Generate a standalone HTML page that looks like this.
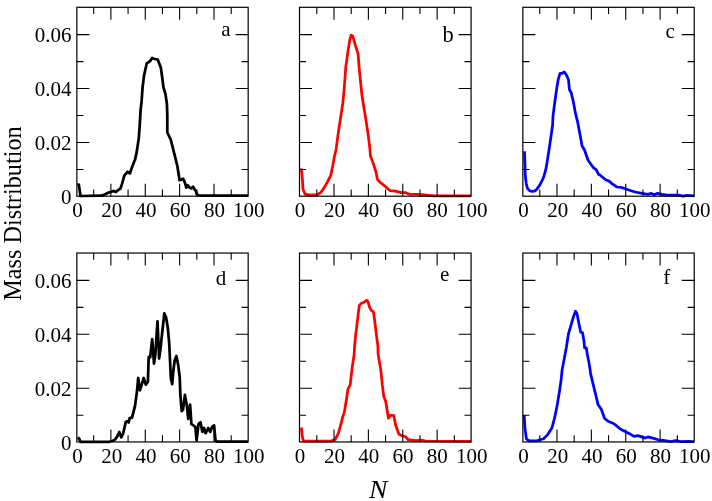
<!DOCTYPE html><html><head><meta charset="utf-8"><style>html,body{margin:0;padding:0;background:#fff;overflow:hidden}svg{display:block;will-change:transform}text{font-family:"Liberation Serif",serif}</style></head><body>
<svg width="712" height="501" viewBox="0 0 712 501">
<rect width="712" height="501" fill="#fff"/>
<polyline points="77.3,184.5 78.8,184.5 80.5,196 101.8,195.7 105.2,194.3 108.6,192.6 111.4,191.8 113.6,190.9 115.9,192.0 118.1,190.1 120.4,188.7 122.1,183.6 124.3,175.7 127.5,171.8 129.9,173.5 131.6,168.4 134.4,161.1 135.0,159.9 136.7,152.1 138.8,138.1 139.8,124 140.6,110 141.6,101.2 142.6,87.1 144.1,75.2 146.8,63.3 150.0,61.2 152.1,57.9 154.7,59.0 157.8,59.7 160.8,67.5 162.2,77.3 163.4,87.1 165.5,94.2 166.9,104 167.3,114.9 167.3,132.5 170.7,139.5 174.6,154.9 177.4,166.2 179.6,180.2 181.5,179.6 183.0,178.7 184.7,182.1 186.3,187.6 187.8,185.3 189.7,187.8 191.6,188.4 193.1,186.8 194.8,189.7 196.0,191 196.7,194.1 199.2,195.7 247.9,195.7" fill="none" stroke="#000" stroke-width="2.75" stroke-linejoin="round" stroke-linecap="butt"/>
<path d="M93.69 196.2v-6.6M93.69 7.3v6.6M110.88 196.2v-12.5M110.88 7.3v12.5M128.07 196.2v-6.6M128.07 7.3v6.6M145.26 196.2v-12.5M145.26 7.3v12.5M162.45 196.2v-6.6M162.45 7.3v6.6M179.64 196.2v-12.5M179.64 7.3v12.5M196.83 196.2v-6.6M196.83 7.3v6.6M214.02 196.2v-12.5M214.02 7.3v12.5M231.21 196.2v-6.6M231.21 7.3v6.6M76.86 169.48h6.6M248.17 169.48h-6.6M76.86 142.51h12.5M248.17 142.51h-12.5M76.86 115.54h6.6M248.17 115.54h-6.6M76.86 88.57h12.5M248.17 88.57h-12.5M76.86 61.6h6.6M248.17 61.6h-6.6M76.86 34.63h12.5M248.17 34.63h-12.5" stroke="#000" stroke-width="1.1" fill="none"/>
<rect x="76.86" y="7.3" width="171.31" height="188.9" fill="none" stroke="#000" stroke-width="1.2"/>
<text x="77.46" y="217.3" font-size="21" text-anchor="middle">0</text>
<text x="111.72" y="217.3" font-size="21" text-anchor="middle">20</text>
<text x="145.98" y="217.3" font-size="21" text-anchor="middle">40</text>
<text x="180.25" y="217.3" font-size="21" text-anchor="middle">60</text>
<text x="214.51" y="217.3" font-size="21" text-anchor="middle">80</text>
<text x="248.77" y="217.3" font-size="21" text-anchor="middle">100</text>
<text x="221.26" y="36" font-size="21">a</text>
<polyline points="301.3,168.3 302.3,178.1 303.0,189.3 305.1,194.2 310.0,195.2 317.1,194.7 320.6,192.8 324.1,187.9 327.6,181.6 330.8,175.3 332.8,165.4 334.6,155.6 336.0,150 338.0,134.9 340.1,120.9 342.7,104 344.1,90 345.8,67.1 347.9,51.7 349.7,40.4 351.1,35.1 352.8,36.2 355.6,46.1 358.1,53.8 359.1,67.1 360.5,81.2 361.9,95 363.3,104 366.1,120.9 368.2,134.9 369.9,149 370.4,155.6 373.9,165.4 376.1,172.5 377.5,179.5 380.3,182.5 385.6,186.7 389.8,190.6 395.4,191.2 401.1,192.6 405.3,192.6 408.8,194.1 419.3,194.4 426.3,195.1 434.8,195.8 471,195.8" fill="none" stroke="#f00" stroke-width="2.75" stroke-linejoin="round" stroke-linecap="butt"/>
<path d="M316.81 196.2v-6.6M316.81 7.3v6.6M334 196.2v-12.5M334 7.3v12.5M351.19 196.2v-6.6M351.19 7.3v6.6M368.38 196.2v-12.5M368.38 7.3v12.5M385.57 196.2v-6.6M385.57 7.3v6.6M402.76 196.2v-12.5M402.76 7.3v12.5M419.95 196.2v-6.6M419.95 7.3v6.6M437.14 196.2v-12.5M437.14 7.3v12.5M454.33 196.2v-6.6M454.33 7.3v6.6M299.5 169.48h6.6M471.07 169.48h-6.6M299.5 142.51h12.5M471.07 142.51h-12.5M299.5 115.54h6.6M471.07 115.54h-6.6M299.5 88.57h12.5M471.07 88.57h-12.5M299.5 61.6h6.6M471.07 61.6h-6.6M299.5 34.63h12.5M471.07 34.63h-12.5" stroke="#000" stroke-width="1.1" fill="none"/>
<rect x="299.5" y="7.3" width="171.57" height="188.9" fill="none" stroke="#000" stroke-width="1.2"/>
<text x="300.1" y="217.3" font-size="21" text-anchor="middle">0</text>
<text x="334.41" y="217.3" font-size="21" text-anchor="middle">20</text>
<text x="368.73" y="217.3" font-size="21" text-anchor="middle">40</text>
<text x="403.04" y="217.3" font-size="21" text-anchor="middle">60</text>
<text x="437.36" y="217.3" font-size="21" text-anchor="middle">80</text>
<text x="471.67" y="217.3" font-size="21" text-anchor="middle">100</text>
<text x="442.5" y="41.5" font-size="22.5">b</text>
<polyline points="524.5,151.2 525.0,165 525.3,176 526.3,184 527.6,188.6 529.5,190.7 532,191.4 534.5,191.1 536.5,189.6 539.8,185 543.4,177.8 545.3,171.5 546.6,165.4 548.7,151.9 550.7,138.5 552.6,125 553.0,116.2 554.8,102.1 556.8,88.1 558.2,79.7 560.0,73.3 562.1,73.3 564.2,71.9 566.3,74.7 568.5,79.7 569.4,89.5 571.3,93.0 573.4,102.1 575.5,113.4 577.6,121.8 579.9,134 582.1,146 584.4,149.7 588.1,160.2 593.4,167.7 596.3,169.9 598.6,174.4 600,175 605.6,179.7 609.1,181.1 612.6,184.2 616.9,187 621.1,187.4 625.3,188.8 629.5,190.2 635.1,192 642.1,193.4 647.8,194.4 651.3,193.4 654.1,194.8 657.6,193.4 661.8,194.4 666.0,194.8 673,195.1 678.7,195.1 682.9,196.2 687.1,195.4 694.1,195.8" fill="none" stroke="#00f" stroke-width="2.75" stroke-linejoin="round" stroke-linecap="butt"/>
<path d="M539.79 196.2v-6.6M539.79 7.3v6.6M556.98 196.2v-12.5M556.98 7.3v12.5M574.17 196.2v-6.6M574.17 7.3v6.6M591.36 196.2v-12.5M591.36 7.3v12.5M608.55 196.2v-6.6M608.55 7.3v6.6M625.74 196.2v-12.5M625.74 7.3v12.5M642.93 196.2v-6.6M642.93 7.3v6.6M660.12 196.2v-12.5M660.12 7.3v12.5M677.31 196.2v-6.6M677.31 7.3v6.6M522.85 169.48h6.6M694.2 169.48h-6.6M522.85 142.51h12.5M694.2 142.51h-12.5M522.85 115.54h6.6M694.2 115.54h-6.6M522.85 88.57h12.5M694.2 88.57h-12.5M522.85 61.6h6.6M694.2 61.6h-6.6M522.85 34.63h12.5M694.2 34.63h-12.5" stroke="#000" stroke-width="1.1" fill="none"/>
<rect x="522.85" y="7.3" width="171.35" height="188.9" fill="none" stroke="#000" stroke-width="1.2"/>
<text x="523.45" y="217.3" font-size="21" text-anchor="middle">0</text>
<text x="557.72" y="217.3" font-size="21" text-anchor="middle">20</text>
<text x="591.99" y="217.3" font-size="21" text-anchor="middle">40</text>
<text x="626.26" y="217.3" font-size="21" text-anchor="middle">60</text>
<text x="660.53" y="217.3" font-size="21" text-anchor="middle">80</text>
<text x="694.8" y="217.3" font-size="21" text-anchor="middle">100</text>
<text x="665.5" y="37.5" font-size="21">c</text>
<text x="71.4" y="203.9" font-size="21" text-anchor="end">0</text>
<text x="71.4" y="149.93" font-size="21" text-anchor="end">0.02</text>
<text x="71.4" y="95.96" font-size="21" text-anchor="end">0.04</text>
<text x="71.4" y="41.99" font-size="21" text-anchor="end">0.06</text>
<polyline points="77.5,437.9 79,438.3 80.4,441.8 109.4,441.8 112.9,440.8 115.3,439.3 117.3,436.4 119.3,432 121.2,437.4 123.2,433.4 124.7,426.5 125.7,422.1 127.1,421.1 128.6,422.6 129.6,418.2 132.0,417.7 133.5,411.8 135,405.9 136.5,395.3 137.4,386.8 138.2,378 139.9,390.2 141.6,385.2 143.7,378 145.8,384.7 147.9,381.8 148.7,356.8 150.2,357.3 152.2,339.1 154.0,363.6 155.3,355.2 157.5,321.4 159.1,358.5 160.3,350.1 164.3,313.4 166.1,317.6 167.8,327.7 169.2,343 170.9,378.7 172.2,384.2 173.4,370.3 174.7,360.2 176.4,356 178.1,364.4 179.7,377 180.4,395.6 181.7,411.1 183.0,409.8 184.9,394.9 186.9,405.9 188.2,418.9 190.1,404.6 191.4,424.1 193.3,425.4 195.3,426.7 196.6,440.3 198.5,424.1 200.5,422.2 202.4,431.9 204.0,428 205.7,433.2 208.3,428 210.2,431.9 212.2,426.7 214.1,425.4 215.4,439.7 216.7,441.6 247.9,441.6" fill="none" stroke="#000" stroke-width="2.75" stroke-linejoin="round" stroke-linecap="butt"/>
<path d="M93.69 441.95v-6.6M93.69 253.05v6.6M110.88 441.95v-12.5M110.88 253.05v12.5M128.07 441.95v-6.6M128.07 253.05v6.6M145.26 441.95v-12.5M145.26 253.05v12.5M162.45 441.95v-6.6M162.45 253.05v6.6M179.64 441.95v-12.5M179.64 253.05v12.5M196.83 441.95v-6.6M196.83 253.05v6.6M214.02 441.95v-12.5M214.02 253.05v12.5M231.21 441.95v-6.6M231.21 253.05v6.6M76.86 415.23h6.6M248.17 415.23h-6.6M76.86 388.26h12.5M248.17 388.26h-12.5M76.86 361.29h6.6M248.17 361.29h-6.6M76.86 334.32h12.5M248.17 334.32h-12.5M76.86 307.35h6.6M248.17 307.35h-6.6M76.86 280.38h12.5M248.17 280.38h-12.5" stroke="#000" stroke-width="1.1" fill="none"/>
<rect x="76.86" y="253.05" width="171.31" height="188.9" fill="none" stroke="#000" stroke-width="1.2"/>
<text x="77.46" y="463.05" font-size="21" text-anchor="middle">0</text>
<text x="111.72" y="463.05" font-size="21" text-anchor="middle">20</text>
<text x="145.98" y="463.05" font-size="21" text-anchor="middle">40</text>
<text x="180.25" y="463.05" font-size="21" text-anchor="middle">60</text>
<text x="214.51" y="463.05" font-size="21" text-anchor="middle">80</text>
<text x="248.77" y="463.05" font-size="21" text-anchor="middle">100</text>
<text x="215.84" y="285" font-size="21">d</text>
<polyline points="301.4,427.5 302.3,436.7 303.4,441.1 331.2,441.1 335.1,439.5 338.2,433.6 340.5,425.9 342.8,416.6 344.4,412 345.9,402.7 346.5,399 347.9,389.2 350.2,384.9 352.1,368.1 354.2,354 354.6,346 355.7,334.9 357.1,323.7 358.4,312.5 359.3,305.7 361.0,303.5 363.3,302.6 364.9,301.8 366.6,300.1 368.1,301.8 369.4,306.9 371.1,310.2 373.4,311.9 374.5,319.2 375.6,328.2 376.7,337.2 377.9,346 378.1,354 380.9,370.9 382.3,384.9 383.7,396.2 385.8,401.8 388.4,418.2 390.7,415.1 393.8,415.7 395.7,425.2 398.8,434 402,435.9 405.2,436.5 408.3,439.7 414,440.3 416.5,440.6 421.6,440 425.4,441 471,441.4" fill="none" stroke="#f00" stroke-width="2.75" stroke-linejoin="round" stroke-linecap="butt"/>
<path d="M316.81 441.95v-6.6M316.81 253.05v6.6M334 441.95v-12.5M334 253.05v12.5M351.19 441.95v-6.6M351.19 253.05v6.6M368.38 441.95v-12.5M368.38 253.05v12.5M385.57 441.95v-6.6M385.57 253.05v6.6M402.76 441.95v-12.5M402.76 253.05v12.5M419.95 441.95v-6.6M419.95 253.05v6.6M437.14 441.95v-12.5M437.14 253.05v12.5M454.33 441.95v-6.6M454.33 253.05v6.6M299.5 415.23h6.6M471.07 415.23h-6.6M299.5 388.26h12.5M471.07 388.26h-12.5M299.5 361.29h6.6M471.07 361.29h-6.6M299.5 334.32h12.5M471.07 334.32h-12.5M299.5 307.35h6.6M471.07 307.35h-6.6M299.5 280.38h12.5M471.07 280.38h-12.5" stroke="#000" stroke-width="1.1" fill="none"/>
<rect x="299.5" y="253.05" width="171.57" height="188.9" fill="none" stroke="#000" stroke-width="1.2"/>
<text x="300.1" y="463.05" font-size="21" text-anchor="middle">0</text>
<text x="334.41" y="463.05" font-size="21" text-anchor="middle">20</text>
<text x="368.73" y="463.05" font-size="21" text-anchor="middle">40</text>
<text x="403.04" y="463.05" font-size="21" text-anchor="middle">60</text>
<text x="437.36" y="463.05" font-size="21" text-anchor="middle">80</text>
<text x="471.67" y="463.05" font-size="21" text-anchor="middle">100</text>
<text x="439.98" y="281" font-size="21">e</text>
<polyline points="524.2,415.3 525.0,428.8 526.4,438.8 529.2,440.8 536.8,440.8 543.5,438.8 547.7,434.6 551.9,427.9 554.4,418.7 556.9,406.9 559.4,391.8 561.1,380.1 562.1,370 564.2,359 566.3,347.8 568.5,333.7 570.6,326.7 573.4,316.9 575.5,311.2 576.9,313.3 578.7,322.5 580.7,332.3 582.5,332.6 583.9,340.7 584.6,347.8 586.3,347.8 587.4,354.8 588.8,361.8 590.2,370 590.5,373.4 593.8,386.8 598,404.4 601.4,409.5 604.7,418.7 608.1,421.2 612.3,422.9 615.1,424.6 618.8,427.8 622.6,430.3 626.4,432.2 630.2,434.1 634.0,436.4 637.8,435.6 641.6,436.9 645.4,438.1 647.9,436.9 653.0,438.1 658,439.8 663.1,440.4 670.7,441.7 675.7,440.7 680.8,441.7 688.4,441.4 694.1,441.7" fill="none" stroke="#00f" stroke-width="2.75" stroke-linejoin="round" stroke-linecap="butt"/>
<path d="M539.79 441.95v-6.6M539.79 253.05v6.6M556.98 441.95v-12.5M556.98 253.05v12.5M574.17 441.95v-6.6M574.17 253.05v6.6M591.36 441.95v-12.5M591.36 253.05v12.5M608.55 441.95v-6.6M608.55 253.05v6.6M625.74 441.95v-12.5M625.74 253.05v12.5M642.93 441.95v-6.6M642.93 253.05v6.6M660.12 441.95v-12.5M660.12 253.05v12.5M677.31 441.95v-6.6M677.31 253.05v6.6M522.85 415.23h6.6M694.2 415.23h-6.6M522.85 388.26h12.5M694.2 388.26h-12.5M522.85 361.29h6.6M694.2 361.29h-6.6M522.85 334.32h12.5M694.2 334.32h-12.5M522.85 307.35h6.6M694.2 307.35h-6.6M522.85 280.38h12.5M694.2 280.38h-12.5" stroke="#000" stroke-width="1.1" fill="none"/>
<rect x="522.85" y="253.05" width="171.35" height="188.9" fill="none" stroke="#000" stroke-width="1.2"/>
<text x="523.45" y="463.05" font-size="21" text-anchor="middle">0</text>
<text x="557.72" y="463.05" font-size="21" text-anchor="middle">20</text>
<text x="591.99" y="463.05" font-size="21" text-anchor="middle">40</text>
<text x="626.26" y="463.05" font-size="21" text-anchor="middle">60</text>
<text x="660.53" y="463.05" font-size="21" text-anchor="middle">80</text>
<text x="694.8" y="463.05" font-size="21" text-anchor="middle">100</text>
<text x="663.35" y="284.4" font-size="21">f</text>
<text x="71.4" y="449.65" font-size="21" text-anchor="end">0</text>
<text x="71.4" y="395.68" font-size="21" text-anchor="end">0.02</text>
<text x="71.4" y="341.71" font-size="21" text-anchor="end">0.04</text>
<text x="71.4" y="287.74" font-size="21" text-anchor="end">0.06</text>
<text transform="translate(21.0,213.6) rotate(-90)" font-size="24.25" text-anchor="middle">Mass Distribution</text>
<text x="369.1" y="497.9" font-size="24.5" font-style="italic" transform="translate(369.1,0) scale(1.13,1) translate(-369.1,0)">N</text>
</svg></body></html>
